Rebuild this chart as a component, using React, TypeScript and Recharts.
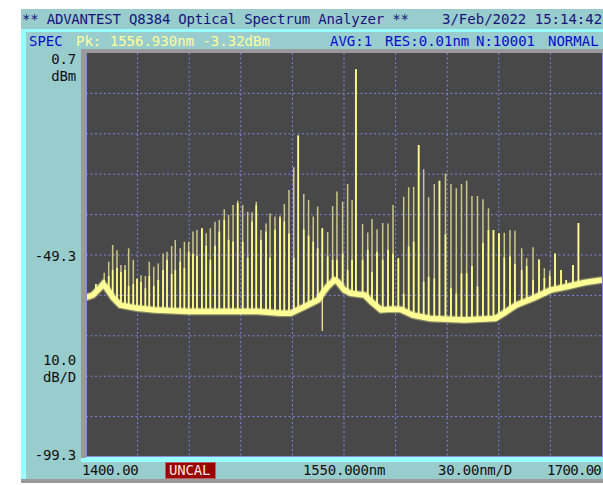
import { ComposedChart, Line, XAxis, YAxis, CartesianGrid } from "recharts";

// comb lines: wavelength (nm), foot on the noise floor, bright core top, peak top (dBm)
const spikeWl = [
  1405.8, 1410.6, 1413.2, 1415.5, 1418.0, 1420.3, 1422.7, 1424.8, 1427.5, 1429.7,
  1432.0, 1434.5, 1436.8, 1439.4, 1442.0, 1444.8, 1447.1, 1449.8, 1451.9, 1454.8,
  1457.2, 1459.7, 1462.2, 1464.5, 1467.4, 1469.9, 1472.3, 1475.0, 1477.5, 1480.4,
  1482.9, 1485.5, 1488.2, 1491.1, 1494.0, 1496.5, 1499.0, 1501.7, 1504.7, 1507.0,
  1509.9, 1512.8, 1515.3, 1518.0, 1520.8, 1523.4, 1526.6, 1529.4, 1532.1, 1534.7,
  1537.4, 1540.5, 1543.4, 1545.9, 1549.2, 1552.1, 1554.7, 1556.93, 1560.8, 1563.8,
  1566.3, 1569.2, 1572.5, 1575.6, 1578.5, 1581.6, 1584.7, 1587.6, 1590.5, 1593.4,
  1596.3, 1599.2, 1602.5, 1605.5, 1609.0, 1612.2, 1615.3, 1618.3, 1621.3, 1624.4,
  1627.6, 1630.8, 1634.0, 1636.9, 1640.1, 1643.2, 1646.5, 1649.4, 1653.3, 1656.2,
  1659.9, 1663.4, 1666.5, 1669.6, 1672.7, 1676.2, 1679.2, 1683.1, 1686.3,
];
const spikeFoot = [
  -58.5, -56.5, -58.0, -59.7, -61.0, -61.7, -62.0, -62.1, -62.3, -62.5,
  -62.6, -62.7, -62.8, -62.9, -62.9, -63.0, -63.0, -63.1, -63.2, -63.2,
  -63.3, -63.3, -63.3, -63.3, -63.3, -63.3, -63.3, -63.3, -63.3, -63.3,
  -63.3, -63.3, -63.3, -63.3, -63.3, -63.3, -63.3, -63.3, -63.4, -63.5,
  -63.6, -63.7, -63.7, -63.7, -63.4, -62.9, -62.2, -61.6, -61.0, -60.5,
  -58.8, -57.1, -55.9, -55.7, -57.4, -58.4, -58.8, -58.9, -59.1, -60.0,
  -61.0, -62.2, -62.9, -62.8, -62.7, -62.8, -63.2, -63.7, -64.2, -64.5,
  -64.7, -65.0, -65.1, -65.1, -65.2, -65.3, -65.4, -65.4, -65.4, -65.4,
  -65.3, -65.2, -65.1, -65.0, -64.5, -63.7, -62.7, -61.8, -61.1, -60.6,
  -60.0, -59.3, -58.7, -58.1, -57.8, -57.4, -57.1, -56.8, -56.4,
];
const spikeCore = [
  -56.5, -55.5, -54.5, -53.0, -52.5, -53.5, -53.0, -57.0, -56.5, -55.2,
  -56.0, -57.5, -54.5, -57.0, -55.5, -53.0, -50.5, -54.0, -53.0, -51.0,
  -52.5, -48.5, -49.0, -49.5, -42.7, -47.0, -50.5, -47.0, -43.5, -40.6,
  -45.5, -46.0, -36.5, -46.0, -50.0, -41.0, -37.0, -45.5, -43.5, -50.0,
  -43.0, -40.0, -41.0, -44.0, -50.0, -19.7, -43.0, -44.5, -46.0, -47.6,
  -42.7, -49.7, -50.5, -50.5, -48.9, -53.0, -50.5, -3.32, -50.5, -48.0,
  -53.5, -48.5, -50.5, -48.0, -49.0, -50.1, -58.8, -47.2, -46.0, -22.1,
  -55.9, -54.7, -55.1, -30.9, -44.2, -57.5, -58.8, -53.8, -53.8, -52.0,
  -57.1, -46.3, -43.1, -43.1, -43.9, -49.9, -49.6, -51.5, -53.0, -52.0,
  -55.5, -50.4, -55.0, -54.5, -48.9, -53.0, -55.5, -51.8, -41.4,
];
const spikePeak = [
  -56.5, -53.7, -51.0, -46.8, -48.1, -51.8, -51.8, -47.6, -50.5, -55.2,
  -54.3, -54.5, -51.0, -52.2, -51.4, -48.9, -48.5, -47.1, -45.6, -47.6,
  -46.0, -46.0, -43.5, -43.1, -42.7, -43.9, -42.7, -41.1, -40.6, -38.0,
  -39.4, -36.9, -35.9, -36.9, -38.6, -38.7, -36.1, -43.1, -41.5, -39.0,
  -39.8, -39.6, -36.7, -33.2, -27.6, -19.7, -34.2, -35.7, -39.8, -37.3,
  -42.7, -43.6, -37.2, -33.6, -36.1, -31.7, -35.7, -3.32, -41.6, -43.7,
  -40.4, -42.9, -41.4, -41.5, -36.9, -50.1, -34.9, -32.5, -32.4, -22.1,
  -28.1, -35.0, -31.7, -30.9, -29.1, -31.7, -32.8, -31.7, -30.9, -34.7,
  -34.7, -35.5, -37.7, -43.1, -43.9, -43.8, -43.1, -43.3, -47.6, -50.1,
  -47.4, -50.4, -52.6, -53.2, -48.9, -53.0, -55.5, -51.8, -41.4,
];

// downward glitch
const dipWl = [1537.4];
const dipFoot = [-58.8];
const dipLow = [-68.1];

// noise floor
const baseWl = [
  1400, 1404, 1408, 1410, 1412, 1416, 1420, 1430, 1440, 1460, 1480, 1500, 1513,
  1519, 1527, 1535, 1537.6, 1540.5, 1544.4, 1546.3, 1550.2, 1554, 1562, 1566,
  1571.5, 1577, 1583, 1590, 1600, 1620, 1638, 1643, 1650, 1660, 1670, 1680, 1690, 1700,
];
const baseDb = [
  -59.8, -59.2, -57.5, -56.5, -57.5, -60.0, -61.7, -62.5, -62.9, -63.3, -63.3, -63.3, -63.7,
  -63.7, -62.1, -60.4, -58.7, -57.1, -55.5, -55.9, -58.0, -58.8, -59.2, -60.9,
  -62.9, -62.7, -62.8, -64.2, -65.0, -65.4, -65.0, -63.7, -61.7, -60.0, -58.0, -57.1, -56.1, -55.5,
];

const xGrid = [1430, 1460, 1490, 1520, 1550, 1580, 1610, 1640, 1670];
const yGrid = [-9.3, -19.3, -29.3, -39.3, -49.3, -59.3, -69.3, -79.3, -89.3];

const dimData = spikeWl.flatMap((wl, i) => [
  { wl, db: spikeFoot[i] },
  { wl, db: spikePeak[i] },
  { wl, db: spikeFoot[i] },
]);
const coreData = spikeWl.flatMap((wl, i) => [
  { wl, db: spikeFoot[i] },
  { wl, db: spikeCore[i] },
  { wl, db: spikeFoot[i] },
]);
const dipData = dipWl.flatMap((wl, i) => [
  { wl, db: dipFoot[i] },
  { wl, db: dipLow[i] },
]);
const baseData = baseWl.map((wl, i) => ({ wl, db: baseDb[i] }));

const mono = '"DejaVu Sans Mono", monospace';

function Txt({ x, y, color = "#111", children, right = false, ls = -0.2 }: any) {
  const style: any = {
    position: "absolute",
    top: y - 1.6,
    fontFamily: mono,
    fontSize: 14,
    lineHeight: "14px",
    letterSpacing: ls,
    color,
    whiteSpace: "pre",
  };
  if (right) {
    style.left = 0;
    style.width = x;
    style.textAlign = "right";
  } else {
    style.left = x;
  }
  return <div style={style}>{children}</div>;
}

export default function App() {
  const teal = "#99CCCC";
  const cyan = "#99FFFF";
  return (
    <div style={{ position: "absolute", left: 0, top: 0, width: 603, height: 485, background: "#fff", overflow: "hidden" }}>
      {/* frame */}
      <div style={{ position: "absolute", left: 21, top: 9, width: 582, height: 20, background: teal }} />
      <div style={{ position: "absolute", left: 21, top: 29, width: 582, height: 450, background: cyan }} />
      <div style={{ position: "absolute", left: 26, top: 32, width: 577, height: 426, background: teal }} />
      <div style={{ position: "absolute", left: 26, top: 462, width: 577, height: 17, background: teal }} />
      <div style={{ position: "absolute", left: 26, top: 440, width: 55, height: 30, background: teal }} />
      <div style={{ position: "absolute", left: 21, top: 479, width: 582, height: 4, background: "#9A9A9A" }} />
      <div style={{ position: "absolute", left: 81, top: 49, width: 522, height: 409, background: "#9A9A9A" }} />
      <div style={{ position: "absolute", left: 86, top: 457, width: 517, height: 5, background: cyan }} />

      {/* header */}
      <Txt x={22} y={14} color="#14147A">** ADVANTEST Q8384 Optical Spectrum Analyzer **</Txt>
      <Txt x={442} y={14} color="#14147A" ls={0}>3/Feb/2022 15:14:42</Txt>
      <Txt x={29} y={36} color="#0A0ACC" ls={0}>SPEC</Txt>
      <Txt x={76} y={36} color="#FFFF99" ls={0}>Pk: 1556.930nm -3.32dBm</Txt>
      <Txt x={330} y={36} color="#0A0ACC" ls={0}>AVG:1</Txt>
      <Txt x={385} y={36} color="#0A0ACC" ls={0}>RES:0.01nm</Txt>
      <Txt x={476} y={36} color="#0A0ACC" ls={0}>N:10001</Txt>
      <Txt x={548} y={36} color="#0A0ACC" ls={0}>NORMAL</Txt>

      {/* y labels */}
      <Txt x={76} y={54} right>0.7</Txt>
      <Txt x={76} y={70.5} right>dBm</Txt>
      <Txt x={76} y={251} right>-49.3</Txt>
      <Txt x={76} y={355} right>10.0</Txt>
      <Txt x={76} y={371.5} right>dB/D</Txt>
      <Txt x={76} y={450} right>-99.3</Txt>

      {/* x labels */}
      <Txt x={82} y={465} ls={-0.4}>1400.00</Txt>
      <div style={{ position: "absolute", left: 165, top: 462, width: 49, height: 15, background: "#990000", border: "1px solid #C06060" }} />
      <Txt x={169} y={465} color="#F4E8E8">UNCAL</Txt>
      <Txt x={303} y={465}>1550.000nm</Txt>
      <Txt x={438} y={465}>30.00nm/D</Txt>
      <Txt x={547} y={465} ls={-0.7}>1700.00</Txt>

      {/* plot */}
      <div style={{ position: "absolute", left: 86, top: 53, width: 517, height: 404, background: "#484848" }}>
        <ComposedChart width={517} height={404} margin={{ top: 0, right: 1, bottom: 0, left: 0 }}>
          <XAxis dataKey="wl" type="number" domain={[1400, 1700]} ticks={xGrid} hide allowDataOverflow />
          <YAxis dataKey="db" type="number" domain={[-99.3, 0.7]} ticks={yGrid} hide allowDataOverflow />
          <CartesianGrid
            stroke="#8484E4"
            strokeDasharray="2 2.5"
            verticalValues={xGrid}
            horizontalValues={yGrid}
          />
          <Line data={dimData} dataKey="db" type="linear" stroke="#CBC788" strokeWidth={1.5} dot={false} isAnimationActive={false} />
          <Line data={coreData} dataKey="db" type="linear" stroke="#FFFF8A" strokeWidth={1.7} dot={false} isAnimationActive={false} />
          <Line data={dipData} dataKey="db" type="linear" stroke="#E8E490" strokeWidth={1.4} dot={false} isAnimationActive={false} />
          <Line data={baseData} dataKey="db" type="linear" stroke="#FFFF96" strokeOpacity={0.35} strokeWidth={8} dot={false} isAnimationActive={false} />
          <Line data={baseData} dataKey="db" type="linear" stroke="#FFFF96" strokeWidth={5.5} dot={false} isAnimationActive={false} />
        </ComposedChart>
        <div style={{ position: "absolute", left: 0, top: 0, width: 515, height: 403, borderLeft: "1px solid #8A8AE0", borderRight: "1px solid #8A8AE0", borderBottom: "1px solid #8A8AE0", pointerEvents: "none" }} />
      </div>
    </div>
  );
}
